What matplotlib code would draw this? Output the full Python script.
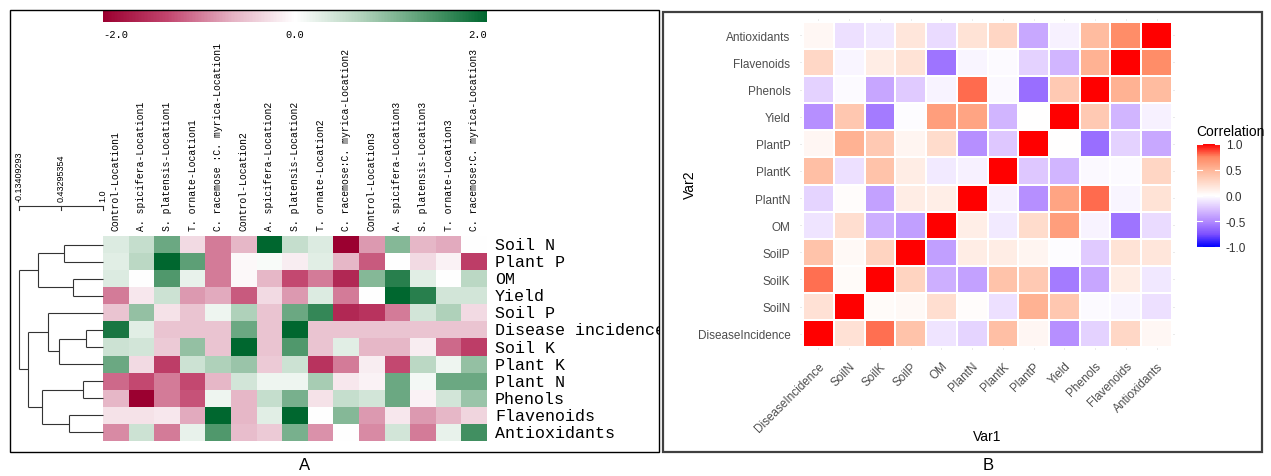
import matplotlib.pyplot as plt
import numpy as np
from matplotlib.colors import LinearSegmentedColormap
from matplotlib.patches import Rectangle
from matplotlib.transforms import Bbox, TransformedBbox

W, H = 1271, 477
MONO = "Liberation Mono"
SANS = "Liberation Sans"

# ---- panel A: standardised trait values per treatment and location ----
traits = ["Soil N", "Plant P", "OM", "Yield", "Soil P", "Disease incidence",
          "Soil K", "Plant K", "Plant N", "Phenols", "Flavenoids", "Antioxidants"]

treatments = [
    "Control-Location1", "A. spicifera-Location1", "S. platensis-Location1",
    "T. ornate-Location1", "C. racemose :C. myrica-Location1",
    "Control-Location2", "A. spicifera-Location2", "S. platensis-Location2",
    "T. ornate-Location2", "C. racemose:C. myrica-Location2",
    "Control-Location3", "A. spicifera-Location3", "S. platensis-Location3",
    "T. ornate-Location3", "C. racemose:C. myrica-Location3",
]

z_soil_n = [0.3, 0.5, 1.2, -0.3, -1.0, -0.6, 2.0, 0.5, 0.3, -2.0, -0.8, 1.0, -0.6, -0.7, 0.0]
z_plant_p = [0.25, 0.6, 2.0, 1.3, -1.0, -0.05, 0.05, -0.15, 0.25, -0.6, -1.2, 0.0, -0.3, -0.1, -1.4]
z_om = [0.3, 0.0, 1.4, 0.2, -1.0, -0.05, -0.6, -1.3, -1.0, -1.6, 1.0, 1.7, 0.25, 0.0, 0.6]
z_yield = [-1.0, -0.2, 0.45, -0.8, -0.7, -1.2, -0.3, -0.8, 0.3, -1.0, 0.0, 2.0, 1.7, 0.4, 0.4]
z_soil_p = [-0.5, 0.9, -0.25, -0.5, 0.15, 0.7, -0.5, 1.2, 1.6, -1.6, -1.5, -1.0, 0.4, 0.7, -0.3]
z_disease = [1.8, 0.25, -0.5, -0.5, -0.5, 1.2, -0.5, 2.0, -0.5, -0.5, -0.5, -0.5, -0.5, -0.5, -0.5]
z_soil_k = [0.45, 0.4, -0.45, 0.9, -0.5, 2.0, -0.5, 1.4, -0.5, 0.25, -0.6, -0.6, -0.15, -1.1, -1.4]
z_plant_k = [1.2, -0.3, -1.4, 0.45, 0.7, 0.85, -0.45, 0.45, -1.5, -1.0, -0.15, -1.3, 0.6, 0.15, 0.9]
z_plant_n = [-1.1, -1.3, -1.0, -1.3, -0.6, 0.4, 0.15, 0.15, 0.75, -0.2, -0.1, 1.2, 0.1, 1.2, 1.2]
z_phenols = [-0.6, -2.0, -1.0, -1.25, 0.15, -0.6, 0.5, 1.1, -0.25, 0.5, 0.4, 1.2, -0.1, 0.4, 0.85]
z_flav = [-0.25, -0.25, -0.2, -0.7, 2.0, -0.6, 0.25, 2.0, 0.0, 1.0, -0.8, -0.2, -0.8, -0.6, -0.35]
z_antiox = [-0.9, 0.45, -1.0, 0.2, 1.4, -0.55, -0.45, 1.1, -0.85, 0.0, -0.9, 0.4, -1.0, 0.2, 1.5]

# row clustering: (left, right, height); ids >= 12 point to earlier merges
merges = [
    (0, 1, 0.48),
    (2, 3, 0.59),
    (12, 13, 0.125),
    (5, 6, 0.77),
    (15, 7, 0.40),
    (4, 16, 0.26),
    (8, 9, 0.73),
    (10, 11, 0.535),
    (18, 19, 0.18),
    (17, 20, -0.01),
    (14, 21, -0.13409293),
]
scale_ticks = [-0.13409293, 0.43295354, 1.0]

# ---- panel B: correlation matrix (lower triangle, row by row) ----
variables = ["DiseaseIncidence", "SoilN", "SoilK", "SoilP", "OM", "PlantN",
             "PlantK", "PlantP", "Yield", "Phenols", "Flavenoids", "Antioxidants"]
corr_lower = [
    [],
    [0.20],
    [0.79, 0.03],
    [0.41, 0.04, 0.29],
    [-0.11, 0.22, -0.34, -0.41],
    [-0.18, 0.02, -0.40, 0.12, 0.11],
    [0.43, -0.13, 0.41, 0.12, -0.09, -0.06],
    [0.06, 0.52, 0.36, 0.07, 0.24, -0.48, -0.24],
    [-0.48, 0.38, -0.57, -0.01, 0.63, 0.60, -0.32, 0.00],
    [-0.19, -0.02, -0.38, -0.22, -0.05, 0.80, -0.03, -0.62, 0.36],
    [0.27, -0.04, 0.12, 0.19, -0.60, -0.04, -0.02, -0.19, -0.32, 0.52],
    [0.05, -0.13, -0.10, 0.17, -0.15, 0.19, 0.28, -0.37, -0.06, 0.46, 0.72],
]

n_var = len(variables)
corr = np.eye(n_var)
for i, row in enumerate(corr_lower):
    for j, v in enumerate(row):
        corr[i, j] = v
        corr[j, i] = v

z = np.array([z_soil_n, z_plant_p, z_om, z_yield, z_soil_p, z_disease,
              z_soil_k, z_plant_k, z_plant_n, z_phenols, z_flav, z_antiox])

cmap_a = LinearSegmentedColormap.from_list(
    "redgreen", ["#9b0030", "#c2456e", "#e4b0c2", "#ffffff",
                 "#b4d4be", "#5a9e74", "#00672f"])
cmap_b = LinearSegmentedColormap.from_list(
    "bwr_lab", ["#0000ff", "#7e51ff", "#b38bff", "#dcc4ff", "#ffffff",
                "#ffdaca", "#ffb698", "#ff8863", "#ff0000"])

fig = plt.figure(figsize=(W / 100, H / 100), dpi=100)


def px_axes(x0, y0, x1, y1):
    return fig.add_axes([x0 / W, 1 - y1 / H, (x1 - x0) / W, (y1 - y0) / H])


# ================= panel A =================
ax_hm = px_axes(103, 237, 487, 442)
ax_hm.imshow(z, cmap=cmap_a, vmin=-2, vmax=2, aspect="auto", interpolation="nearest")
ax_hm.xaxis.tick_top()
ax_hm.set_xticks(range(len(treatments)))
ax_hm.set_xticklabels(treatments, rotation=90, fontsize=7, family=MONO)
ax_hm.tick_params(axis="x", length=0, pad=4)
ax_hm.set_yticks([])
for s in ax_hm.spines.values():
    s.set_visible(False)

panel_a_clip = TransformedBbox(Bbox([[10 / W, 0.0], [659 / W, 1.0]]), fig.transFigure)
for i, name in enumerate(traits):
    t = ax_hm.text(1.021, i, name, transform=ax_hm.get_yaxis_transform(),
                   ha="left", va="center", fontsize=12, family=MONO)
    t.set_clip_box(panel_a_clip)
    t.set_clip_on(True)

# dendrogram
ax_dn = px_axes(19, 237, 103, 442)
ax_dn.set_xlim(scale_ticks[0], 1.0)
ax_dn.set_ylim(len(traits) - 0.5, -0.5)
ax_dn.axis("off")
pos = {i: (1.0, float(i)) for i in range(len(traits))}
for k, (a, b, h) in enumerate(merges):
    (xa, ya), (xb, yb) = pos[a], pos[b]
    kw = dict(color="#333333", lw=0.8, clip_on=False, solid_capstyle="butt")
    ax_dn.plot([xa, h], [ya, ya], **kw)
    ax_dn.plot([xb, h], [yb, yb], **kw)
    ax_dn.plot([h, h], [ya, yb], **kw)
    pos[len(traits) + k] = (h, (ya + yb) / 2)

# distance scale above the tree
y_bar = -2.26
ax_dn.plot([scale_ticks[0], scale_ticks[-1]], [y_bar, y_bar], color="#333333",
           lw=0.8, clip_on=False)
for v in scale_ticks:
    ax_dn.plot([v, v], [y_bar, y_bar + 0.25], color="#333333", lw=0.8, clip_on=False)
    ax_dn.text(v, y_bar - 0.3, f"{v}", rotation=90, ha="center", va="bottom",
               fontsize=6.5, family=SANS, clip_on=False)

# colour key
ax_key = px_axes(103, 12, 487, 23)
sm_a = plt.cm.ScalarMappable(cmap=cmap_a, norm=plt.Normalize(-2, 2))
cb_a = fig.colorbar(sm_a, cax=ax_key, orientation="horizontal")
cb_a.outline.set_visible(False)
cb_a.set_ticks([-2, 0, 2])
cb_a.set_ticklabels(["-2.0", "0.0", "2.0"])
ax_key.tick_params(length=0, pad=5, labelsize=7.5)
key_labels = ax_key.get_xticklabels()
for lbl in key_labels:
    lbl.set_family(MONO)
key_labels[0].set_ha("left")
key_labels[-1].set_ha("right")

# ================= panel B =================
ax_c = px_axes(800, 20, 1175, 351)
edges = np.arange(n_var + 1) - 0.5
ax_c.pcolormesh(edges, edges, corr, cmap=cmap_b, vmin=-1, vmax=1,
                edgecolors="white", linewidth=0.3)
ax_c.set_xlim(-0.6, n_var - 0.4)
ax_c.set_ylim(-0.6, n_var - 0.4)
ax_c.set_axisbelow(True)
ax_c.grid(True, color="#e6e6e6", lw=0.6)
ax_c.set_xticks(range(n_var))
ax_c.set_yticks(range(n_var))
ax_c.set_xticklabels(variables, rotation=45, ha="right", rotation_mode="anchor",
                     fontsize=8.5, family=SANS, color="#4d4d4d")
ax_c.set_yticklabels(variables, fontsize=8.5, family=SANS, color="#4d4d4d")
ax_c.tick_params(length=0, pad=7)
for s in ax_c.spines.values():
    s.set_visible(False)

fig.text(987 / W, 1 - 437 / H, "Var1", ha="center", va="center", fontsize=10, family=SANS)
fig.text(690 / W, 1 - 185 / H, "Var2", ha="center", va="center", rotation=90,
         fontsize=10, family=SANS)

ax_leg = px_axes(1197, 145, 1220, 248)
sm_b = plt.cm.ScalarMappable(cmap=cmap_b, norm=plt.Normalize(-1, 1))
cb_b = fig.colorbar(sm_b, cax=ax_leg)
cb_b.outline.set_visible(False)
leg_ticks = [-1.0, -0.5, 0.0, 0.5, 1.0]
cb_b.set_ticks(leg_ticks)
cb_b.set_ticklabels([f"{v:.1f}" for v in leg_ticks])
ax_leg.tick_params(length=0, pad=4, labelsize=8.5, labelcolor="#333333")
for lbl in ax_leg.get_yticklabels():
    lbl.set_family(SANS)
for v in leg_ticks:
    ax_leg.plot([0, 0.2], [v, v], color="white", lw=0.8,
                transform=ax_leg.get_yaxis_transform(), clip_on=False)
    ax_leg.plot([0.8, 1.0], [v, v], color="white", lw=0.8,
                transform=ax_leg.get_yaxis_transform(), clip_on=False)
fig.text(1196 / W, 1 - 132 / H, "Correlation", ha="left", va="center",
         fontsize=10, family=SANS)

# frames and panel letters
fig.add_artist(Rectangle((10 / W, 1 - 453 / H), 649 / W, 442 / H,
                         transform=fig.transFigure, fill=False, ec="black", lw=1.0))
fig.add_artist(Rectangle((663 / W, 1 - 453 / H), 599 / W, 440 / H,
                         transform=fig.transFigure, fill=False, ec="#404040", lw=1.6))
fig.text(305 / W, 1 - 466 / H, "A", ha="center", va="center", fontsize=12, family=SANS)
fig.text(988 / W, 1 - 466 / H, "B", ha="center", va="center", fontsize=12, family=SANS)

fig.savefig("out.png", dpi=100)
